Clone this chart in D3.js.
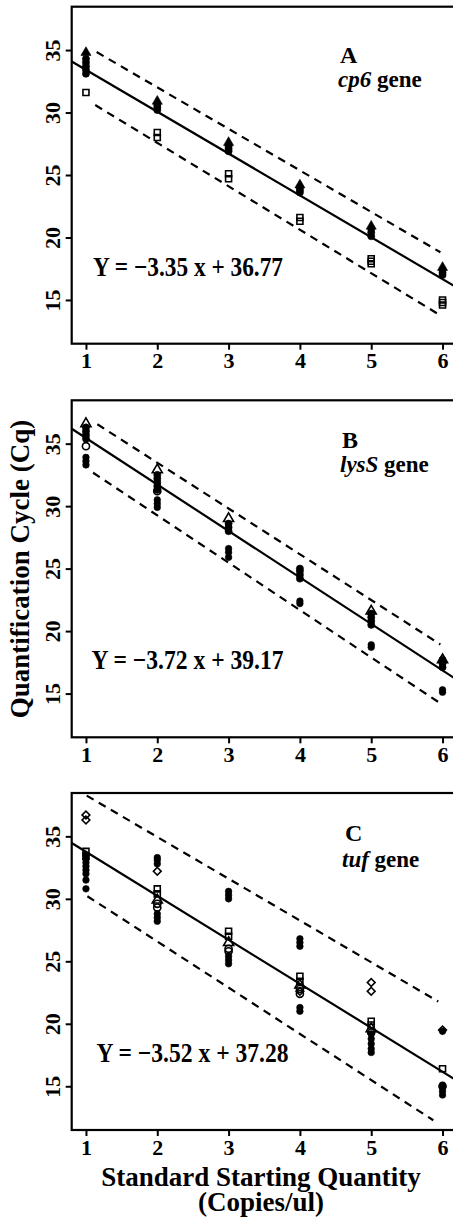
<!DOCTYPE html>
<html>
<head>
<meta charset="utf-8">
<script src="https://cdn.jsdelivr.net/npm/d3@7"></script>
<style>
  html, body { margin: 0; padding: 0; background: #fff; }
  svg { display: block; }
</style>
</head>
<body>
<svg id="chart" width="453" height="1217"></svg>
<script>
// ---- data ----
const xTicks = [1, 2, 3, 4, 5, 6];
const yTicks = [15, 20, 25, 30, 35];

// panel A: cp6
const cp6Fit = [-3.35, 36.77];
const cp6Upper = [[1.15, 34.84], [5.97, 18.82]];
const cp6Lower = [[1.13, 30.6], [5.92, 13.94]];
const cp6Circles = [[1, 33.1], [1, 33.4], [1, 33.7], [1, 34.0], [1, 34.3],
  [2, 30.2], [2, 30.4], [2, 30.6], [3, 26.9], [3, 27.1], [3, 27.3],
  [4, 23.6], [4, 23.8], [4, 24.0], [5, 20.1], [5, 20.4], [5, 20.7],
  [6, 17.0], [6, 17.2], [6, 17.4]];
const cp6Triangles = [[1, 34.8], [2, 30.9], [3, 27.6], [4, 24.2], [5, 20.9], [6, 17.6]];
const cp6Squares = [[1, 31.6], [2, 28.0], [2, 28.4], [3, 24.7], [3, 25.1],
  [4, 21.3], [4, 21.6], [5, 17.9], [5, 18.1], [5, 18.3], [6, 14.6], [6, 14.8], [6, 15.0]];

// panel B: lysS
const lysFit = [-3.72, 39.17];
const lysUpper = [[1.16, 36.55], [5.97, 18.93]];
const lysLower = [[1.10, 32.67], [5.94, 14.33]];
const lysCircles = [[1, 35.4], [1, 35.7], [1, 36.0], [1, 36.3],
  [2, 31.3], [2, 31.6], [2, 31.9], [2, 32.2], [2, 32.5],
  [3, 28.0], [3, 28.3], [3, 28.6], [4, 24.2], [4, 24.5], [4, 24.8], [4, 25.0],
  [5, 20.5], [5, 20.8], [5, 21.1], [5, 21.4], [6, 17.1], [6, 17.4], [6, 17.7]];
const lysTriangles = [[1, 36.6], [2, 32.9], [3, 29.0], [5, 21.6], [6, 17.7]];
const lysOpenCircles = [[1, 34.8], [2, 31.2]];
const lysDots = [[1, 33.3], [1, 33.6], [1, 33.9], [2, 29.9], [2, 30.2], [2, 30.5],
  [3, 25.9], [3, 26.3], [3, 26.6], [4, 22.2], [4, 22.4], [5, 18.7], [5, 18.9],
  [6, 15.1], [6, 15.3]];

// panel C: tuf
const tufFit = [-3.52, 37.28];
const tufUpper = [[1.01, 38.26], [5.94, 21.78]];
const tufLower = [[1.02, 30.21], [5.87, 12.28]];
const tufCircles = [[1, 33.2], [1, 33.5], [1, 32.0], [1, 32.3], [1, 32.6], [1, 32.9],
  [1, 31.5], [1, 30.8], [2, 32.8], [2, 33.1], [2, 33.3], [2, 28.2], [2, 28.5], [2, 28.8],
  [3, 30.0], [3, 30.3], [3, 30.6], [3, 24.8], [3, 25.1], [3, 25.4],
  [4, 26.2], [4, 26.5], [4, 26.8], [4, 21.0], [4, 21.3],
  [5, 17.7], [5, 18.0], [5, 18.4], [5, 18.8], [5, 19.2],
  [6, 19.4], [6, 14.3], [6, 14.6], [6, 14.9], [6, 15.1]];
const tufDiamonds = [[1, 36.3], [1, 36.7], [2, 32.2], [4, 22.6], [5, 22.6], [5, 23.3], [6, 19.5]];
const tufSquares = [[1, 33.4], [1, 33.8], [2, 30.4], [2, 30.8], [3, 27.0], [3, 27.4],
  [4, 23.4], [4, 23.8], [5, 19.9], [5, 20.2], [6, 16.4]];
const tufTriangles = [[2, 29.9], [3, 26.5], [4, 23.1], [5, 19.6]];
const tufOpenCircles = [[2, 29.3], [2, 29.6], [3, 25.8], [3, 26.0], [4, 22.4], [4, 22.8],
  [5, 19.3], [6, 15.0]];

const panels = [
  { top: 6.7, letter: 'A', gene: 'cp6', fit: cp6Fit, upper: cp6Upper, lower: cp6Lower,
    eq: 'Y = \u22123.35 x + 36.77', letterY: 56, geneY: 80, letterX: 340, geneX: 338, eqX: 93, eqW: 190,
    series: [
      { pts: cp6Circles, shape: 'circle', fill: true },
      { pts: cp6Triangles, shape: 'triangle', fill: true },
      { pts: cp6Squares, shape: 'square', fill: false }] },
  { top: 400.3, letter: 'B', gene: 'lysS', fit: lysFit, upper: lysUpper, lower: lysLower,
    eq: 'Y = \u22123.72 x + 39.17', letterY: 48, geneY: 72, letterX: 342, geneX: 340, eqX: 91.5, eqW: 192,
    series: [
      { pts: lysCircles, shape: 'circle', fill: true },
      { pts: lysDots, shape: 'dot', fill: true },
      { pts: lysOpenCircles, shape: 'circle', fill: false },
      { pts: lysTriangles, shape: 'triangle', fill: false }] },
  { top: 793, letter: 'C', gene: 'tuf', fit: tufFit, upper: tufUpper, lower: tufLower,
    eq: 'Y = \u22123.52 x + 37.28', letterY: 47.5, geneY: 74, letterX: 345, geneX: 342, eqX: 96.5, eqW: 192,
    series: [
      { pts: tufCircles, shape: 'dot', fill: true },
      { pts: tufSquares, shape: 'square', fill: false },
      { pts: tufOpenCircles, shape: 'circle', fill: false },
      { pts: tufTriangles, shape: 'triangle', fill: false },
      { pts: tufDiamonds, shape: 'diamond', fill: false }] }
];

// ---- layout ----
const FONT = '"Liberation Serif", "Times New Roman", serif';
const panelH = 337;
const x = d3.scaleLinear().domain([0.8, 6.2]).range([71.7, 456.8]);
const y = d3.scaleLinear().domain([11.5, 38.47]).range([panelH, 0]);

const svg = d3.select('#chart');
svg.append('rect').attr('width', 453).attr('height', 1217).attr('fill', '#fff');

const symbolFor = (shape) => {
  if (shape === 'triangle') return d3.symbol(d3.symbolTriangle, 44);
  if (shape === 'square') return d3.symbol(d3.symbolSquare, 36);
  if (shape === 'diamond') return d3.symbol(d3.symbolSquare, 30);
  if (shape === 'dot') return d3.symbol(d3.symbolCircle, 34);
  return d3.symbol(d3.symbolCircle, 40);
};

panels.forEach((p, i) => {
  const g = svg.append('g').attr('transform', `translate(0, ${p.top})`);
  const clipId = `clip${i}`;
  g.append('clipPath').attr('id', clipId)
    .append('rect')
    .attr('x', x.range()[0]).attr('y', 0)
    .attr('width', x.range()[1] - x.range()[0]).attr('height', panelH);

  const inner = g.append('g').attr('clip-path', `url(#${clipId})`);

  // regression line
  const [m, b] = p.fit;
  const dom = x.domain();
  inner.append('path')
    .attr('d', d3.line()(dom.map((d) => [x(d), y(m * d + b)])))
    .attr('stroke', '#000').attr('stroke-width', 2.2).attr('fill', 'none');

  // bounds
  [p.upper, p.lower].forEach((seg) => {
    inner.append('path')
      .attr('d', d3.line().x((d) => x(d[0])).y((d) => y(d[1]))(seg))
      .attr('stroke', '#000').attr('stroke-width', 2.2).attr('fill', 'none')
      .attr('stroke-dasharray', '8,6');
  });

  // points
  p.series.forEach((s) => {
    const sym = symbolFor(s.shape);
    inner.selectAll(null)
      .data(s.pts)
      .enter()
      .append('path')
      .attr('d', sym)
      .attr('transform', (d) => `translate(${x(d[0])}, ${y(d[1])})` + (s.shape === 'diamond' ? ' rotate(45)' : ''))
      .attr('fill', s.fill ? '#000' : '#fff')
      .attr('fill-opacity', s.fill ? 1 : 0)
      .attr('stroke', '#000')
      .attr('stroke-width', s.fill ? 0.6 : 1.6);
  });

  // box
  g.append('rect')
    .attr('x', x.range()[0]).attr('y', 0)
    .attr('width', x.range()[1] - x.range()[0]).attr('height', panelH)
    .attr('fill', 'none').attr('stroke', '#000').attr('stroke-width', 2.2);

  // y axis, labels rotated like R's default
  const yAxis = g.append('g').attr('transform', `translate(${x.range()[0]}, 0)`)
    .call(d3.axisLeft(y).tickValues(yTicks).tickSize(6));
  yAxis.select('.domain').remove();
  yAxis.selectAll('line').attr('stroke-width', 2);
  yAxis.selectAll('text')
    .attr('font-family', FONT).attr('font-weight', 'bold').attr('font-size', 22)
    .attr('fill', '#000')
    .attr('text-anchor', 'middle')
    .attr('dy', null)
    .attr('x', 0).attr('y', 0)
    .attr('transform', 'translate(-12, 0) rotate(-90)');

  const xAxis = g.append('g').attr('transform', `translate(0, ${panelH})`)
    .call(d3.axisBottom(x).tickValues(xTicks).tickFormat(d3.format('d')).tickSize(6).tickPadding(3));
  xAxis.select('.domain').remove();
  xAxis.selectAll('line').attr('stroke-width', 2);
  xAxis.selectAll('text')
    .attr('font-family', FONT).attr('font-weight', 'bold').attr('font-size', 22)
    .attr('fill', '#000');

  // labels
  g.append('text').attr('x', p.letterX).attr('y', p.letterY)
    .attr('font-family', FONT).attr('font-weight', 'bold').attr('font-size', 24)
    .text(p.letter);
  const gt = g.append('text').attr('x', p.geneX).attr('y', p.geneY)
    .attr('font-family', FONT).attr('font-weight', 'bold').attr('font-size', 23);
  gt.append('tspan').attr('font-style', 'italic').text(p.gene);
  gt.append('tspan').text(' gene');

  g.append('text').attr('x', p.eqX).attr('y', 269)
    .attr('font-family', FONT).attr('font-weight', 'bold').attr('font-size', 27)
    .attr('textLength', p.eqW).attr('lengthAdjust', 'spacingAndGlyphs')
    .text(p.eq);
});

// axis titles
svg.append('text')
  .attr('transform', 'translate(29, 569) rotate(-90)')
  .attr('text-anchor', 'middle')
  .attr('font-family', FONT).attr('font-weight', 'bold').attr('font-size', 27)
  .text('Quantification Cycle (Cq)');

svg.append('text').attr('x', 261).attr('y', 1186)
  .attr('text-anchor', 'middle')
  .attr('font-family', FONT).attr('font-weight', 'bold').attr('font-size', 27)
  .text('Standard Starting Quantity');
svg.append('text').attr('x', 261).attr('y', 1211)
  .attr('text-anchor', 'middle')
  .attr('font-family', FONT).attr('font-weight', 'bold').attr('font-size', 27)
  .text('(Copies/ul)');
</script>
</body>
</html>
